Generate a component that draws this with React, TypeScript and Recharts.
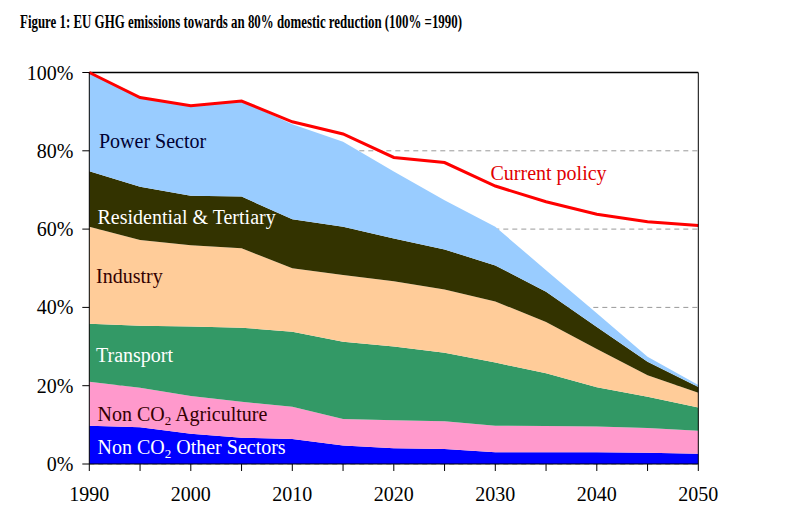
import React from 'react';
import {
  ComposedChart,
  Area,
  Line,
  XAxis,
  YAxis,
  CartesianGrid,
  ReferenceLine,
} from 'recharts';

const years = [1990, 1995, 2000, 2005, 2010, 2015, 2020, 2025, 2030, 2035, 2040, 2045, 2050];

// each sector's share, stacked bottom to top (% of 1990)
const otherSectors = [9.8, 9.4, 7.7, 6.7, 6.4, 4.7, 4.0, 3.8, 3.0, 3.0, 3.0, 2.9, 2.6];
const agriculture = [11.2, 10.1, 9.7, 9.2, 8.2, 6.8, 7.2, 7.1, 6.8, 6.7, 6.6, 6.3, 5.9];
const transport = [14.8, 15.8, 17.7, 18.9, 19.2, 19.7, 18.8, 17.5, 16.1, 13.5, 10.0, 8.0, 5.9];
const industry = [24.8, 21.9, 20.8, 20.3, 16.2, 17.1, 16.7, 16.2, 15.6, 13.1, 9.8, 5.5, 3.8];
const residential = [14.2, 13.6, 12.6, 13.2, 12.5, 12.3, 10.9, 10.2, 9.2, 7.7, 5.6, 3.4, 1.5];
const power = [25.2, 22.8, 23.0, 24.4, 24.3, 21.7, 17.1, 12.6, 9.9, 5.5, 3.5, 1.3, 0.5];
const currentPolicy = [100, 93.6, 91.5, 92.7, 87.4, 84.3, 78.3, 77.0, 71.0, 67.0, 63.8, 61.9, 60.9];

const xTicks = [1990, 1995, 2000, 2005, 2010, 2015, 2020, 2025, 2030, 2035, 2040, 2045, 2050];
const yTicks = [0, 20, 40, 60, 80, 100];

const data = years.map((year, i) => ({
  year,
  other: otherSectors[i],
  agri: agriculture[i],
  transport: transport[i],
  industry: industry[i],
  residential: residential[i],
  power: power[i],
  policy: currentPolicy[i],
}));

const serif = { fontFamily: 'Liberation Serif' };

const XTick = (props: any) => {
  const { x, y, payload } = props;
  if (payload.value % 10 !== 0) return null;
  return (
    <text x={x} y={y} dy={14} textAnchor="middle" fontSize={20} fill="#000" style={serif}>
      {payload.value}
    </text>
  );
};

const YTick = (props: any) => {
  const { x, y, payload, textAnchor } = props;
  return (
    <text x={x} y={y} dy={7} textAnchor={textAnchor} fontSize={20} fill="#000" style={serif}>
      {`${payload.value}%`}
    </text>
  );
};

const Label = ({ x, y, fill, children }: any) => (
  <text x={x} y={y} fill={fill} fontSize={20} style={serif}>
    {children}
  </text>
);

export default function App() {
  return (
    <div style={{ position: 'absolute', left: 0, top: 0, width: 791, height: 523, background: '#fff', ...serif }}>
      <ComposedChart
        width={791}
        height={523}
        data={data}
        margin={{ top: 72.5, right: 32.7, bottom: 19, left: 29.3 }}
      >
        <CartesianGrid yAxisId="left" vertical={false} stroke="#999" strokeDasharray="5 4" />
        <XAxis
          dataKey="year"
          type="number"
          domain={[1990, 2050]}
          ticks={xTicks}
          tick={<XTick />}
          tickSize={7}
          tickMargin={16}
          height={40}
          stroke="#000"
          interval={0}
        />
        <YAxis
          yAxisId="left"
          domain={[0, 100]}
          ticks={yTicks}
          tick={<YTick />}
          tickSize={7}
          tickMargin={9}
          width={60}
          stroke="#000"
          interval={0}
        />
        <YAxis
          yAxisId="right"
          orientation="right"
          domain={[0, 100]}
          ticks={yTicks}
          tick={<YTick />}
          tickSize={7}
          tickMargin={8}
          width={60}
          stroke="#000"
          interval={0}
        />
        <Area yAxisId="left" type="linear" dataKey="other" stackId="s" fill="#0000FF" fillOpacity={1} stroke="none" isAnimationActive={false} />
        <Area yAxisId="left" type="linear" dataKey="agri" stackId="s" fill="#FF99CC" fillOpacity={1} stroke="none" isAnimationActive={false} />
        <Area yAxisId="left" type="linear" dataKey="transport" stackId="s" fill="#339966" fillOpacity={1} stroke="none" isAnimationActive={false} />
        <Area yAxisId="left" type="linear" dataKey="industry" stackId="s" fill="#FFCC99" fillOpacity={1} stroke="none" isAnimationActive={false} />
        <Area yAxisId="left" type="linear" dataKey="residential" stackId="s" fill="#333300" fillOpacity={1} stroke="none" isAnimationActive={false} />
        <Area yAxisId="left" type="linear" dataKey="power" stackId="s" fill="#99CCFF" fillOpacity={1} stroke="none" isAnimationActive={false} />
        <ReferenceLine yAxisId="left" y={100} stroke="#000" strokeWidth={1.5} />
        <Line yAxisId="left" type="linear" dataKey="policy" stroke="#FF0000" strokeWidth={3} dot={false} isAnimationActive={false} />
      </ComposedChart>

      {/* title and in-chart labels */}
      <svg width={791} height={523} style={{ position: 'absolute', left: 0, top: 0, pointerEvents: 'none' }}>
        <text x={20} y={28} fontWeight="bold" fontSize={18} textLength={442} lengthAdjust="spacingAndGlyphs" style={serif}>
          Figure 1: EU GHG emissions towards an 80% domestic reduction (100% =1990)
        </text>
        <Label x={99} y={148} fill="#000033">Power Sector</Label>
        <Label x={97.5} y={224} fill="#fff">Residential &amp; Tertiary</Label>
        <Label x={96} y={283} fill="#330000">Industry</Label>
        <Label x={96} y={361.5} fill="#fff">Transport</Label>
        <Label x={97.5} y={420.5} fill="#330000">
          Non CO<tspan fontSize={13} dy={4}>2</tspan><tspan dy={-4}> Agriculture</tspan>
        </Label>
        <Label x={97.5} y={454} fill="#fff">
          Non CO<tspan fontSize={13} dy={4}>2</tspan><tspan dy={-4}> Other Sectors</tspan>
        </Label>
        <Label x={490.5} y={180} fill="#E00000">Current policy</Label>
      </svg>
    </div>
  );
}
